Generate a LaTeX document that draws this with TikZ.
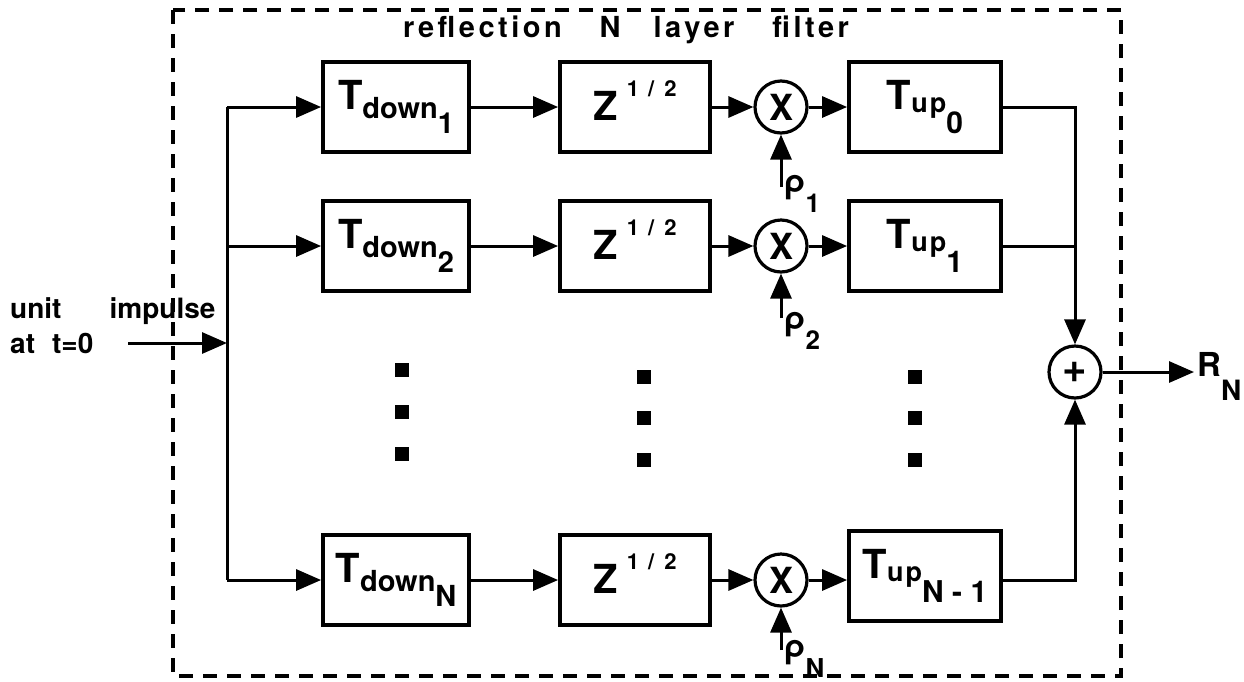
\documentclass[tikz,border=0pt]{standalone}
\usepackage{fontspec}
\setmainfont{TeX Gyre Heros}
\newfontfamily\spacedfont[LetterSpace=12]{TeX Gyre Heros}
\usetikzlibrary{arrows.meta}
\newcommand{\myfs}[1]{\fontsize{#1}{#1}\selectfont}
\newcommand{\Tdownlab}[1]{{\myfs{40}T}\raisebox{-9pt}{\myfs{29}down}\raisebox{-24pt}{\myfs{29}#1}}
\newcommand{\Tuplab}[1]{{\myfs{40}T}\raisebox{-3pt}{\myfs{27}u\kern2pt p}\raisebox{-24pt}{\myfs{30}#1}}
\newcommand{\Zlab}{\rule[-12pt]{0pt}{12pt}{\myfs{40}Z}\hspace{9pt}\raisebox{24pt}{\myfs{22}1\hspace{9pt}/\hspace{10pt}2}}
\newcommand{\rholab}[1]{{\myfs{32}ρ}\raisebox{-20pt}{\myfs{26}#1}}
\begin{document}
\begin{tikzpicture}[x=1pt,y=-1pt,
  font=\bfseries,
  line/.style={line width=3pt},
  arr/.style={line width=3pt,-{Triangle[length=25pt,width=21pt]}},
  tdbox/.style={draw,line width=3.8pt,minimum width=146pt,minimum height=90pt,inner sep=0pt},
  zbox/.style={draw,line width=3.8pt,minimum width=150pt,minimum height=90pt,inner sep=0pt},
  tubox/.style={draw,line width=3.8pt,minimum width=152pt,minimum height=90pt,inner sep=0pt},
  mult/.style={draw,circle,line width=3.2pt,minimum size=52pt,inner sep=0pt,font=\bfseries\myfs{36}},
  dashbox/.style={line width=3.6pt,dash pattern=on 14pt off 10pt},
  rholbl/.style={anchor=north west,inner sep=0pt}
]
\useasboundingbox (0,0) rectangle (1244,681);

% dashed frame and title
\draw[dashbox] (173,10) rectangle (1121,676);
\node[anchor=base west,inner sep=0pt] (title) at (403,37)
  {\spacedfont\bfseries\myfs{29}reflection\hspace{38pt}N\hspace{33pt}layer\hspace{38pt}filter};

% input
\node[anchor=north west,inner sep=0pt,align=left,font=\bfseries\fontsize{28}{35}\selectfont] (inp) at (10,297)
  {unit\hspace{48pt}impulse\\at\hspace{17pt}t=0};
\coordinate (inpstart) at (128,343);
\coordinate (b1) at (227,107);
\coordinate (b2) at (227,246);
\coordinate (bN) at (227,580);

% row 1
\node[tdbox] (td1) at (396,107) {\Tdownlab{1}};
\node[zbox]  (z1)  at (635,107) {\Zlab};
\node[mult]  (x1)  at (781,107) {X};
\node[tubox] (tu0) at (925,107) {\Tuplab{0}\hspace{22pt}};
% row 2
\node[tdbox] (td2) at (396,246) {\Tdownlab{2}};
\node[zbox]  (z2)  at (635,246) {\Zlab};
\node[mult]  (x2)  at (781,246) {X};
\node[tubox] (tu1) at (925,246) {\Tuplab{1}\hspace{26pt}};
% row N
\node[tdbox] (tdN) at (396,580) {\Tdownlab{N}};
\node[zbox]  (zN)  at (635,580) {\Zlab};
\node[mult]  (xN)  at (781,580) {X};
\node[tubox] (tuN) at (925,576) {\Tuplab{N - 1}};

% summing junction and output
\node[mult,font=\bfseries\myfs{42}] (sum) at (1075,372) {+};
\node[anchor=base west,inner sep=3pt] (rn) at (1194,376) {{\myfs{33}R}\raisebox{-24pt}{\myfs{28}N}};

% bus and input
\draw[line] (b1) -- (bN);
\draw[arr] (inpstart) -- (inpstart -| b1);
\draw[arr] (b1) -- (td1);
\draw[arr] (b2) -- (td2);
\draw[arr] (bN) -- (tdN);

% row connectors
\draw[arr] (td1) -- (z1);
\draw[arr] (z1) -- (x1);
\draw[arr] (x1) -- (tu0.west |- x1);
\draw[arr] (td2) -- (z2);
\draw[arr] (z2) -- (x2);
\draw[arr] (x2) -- (tu1.west |- x2);
\draw[arr] (tdN) -- (zN);
\draw[arr] (zN) -- (xN);
\draw[arr] (xN) -- (tuN.west |- xN);

% reflection coefficients
\coordinate (r1) at (781,187);
\coordinate (r2) at (781,318);
\coordinate (rN) at (781,650);
\draw[arr] (r1) -- (x1.south);
\draw[arr] (r2) -- (x2.south);
\draw[arr] (rN) -- (xN.south);
\node[rholbl] (l1) at ([xshift=3pt,yshift=12pt]r1) {\rholab{1}};
\node[rholbl] (l2) at ([xshift=3pt,yshift=6pt]r2) {\rholab{2}};
\node[rholbl] (lN) at ([xshift=3pt,yshift=10pt]rN) {\rholab{N}};

% outputs to the sum
\draw[arr] (tu0.east) -| (sum.north);
\draw[line] (tu1.east) -- (tu1.east -| sum.north);
\draw[arr] (tuN.east |- xN) -| (sum.south);
\draw[arr] (sum.east) -- (sum.east -| rn.west);

% ellipsis dots
\foreach \cx/\ya/\yb/\yc in {402/370/412/454, 644/377/418/460, 915/377/418/460}{
  \foreach \cy in {\ya,\yb,\yc}{
    \fill (\cx-7,\cy-7) rectangle (\cx+7,\cy+7);
  }
}
\end{tikzpicture}
\end{document}
